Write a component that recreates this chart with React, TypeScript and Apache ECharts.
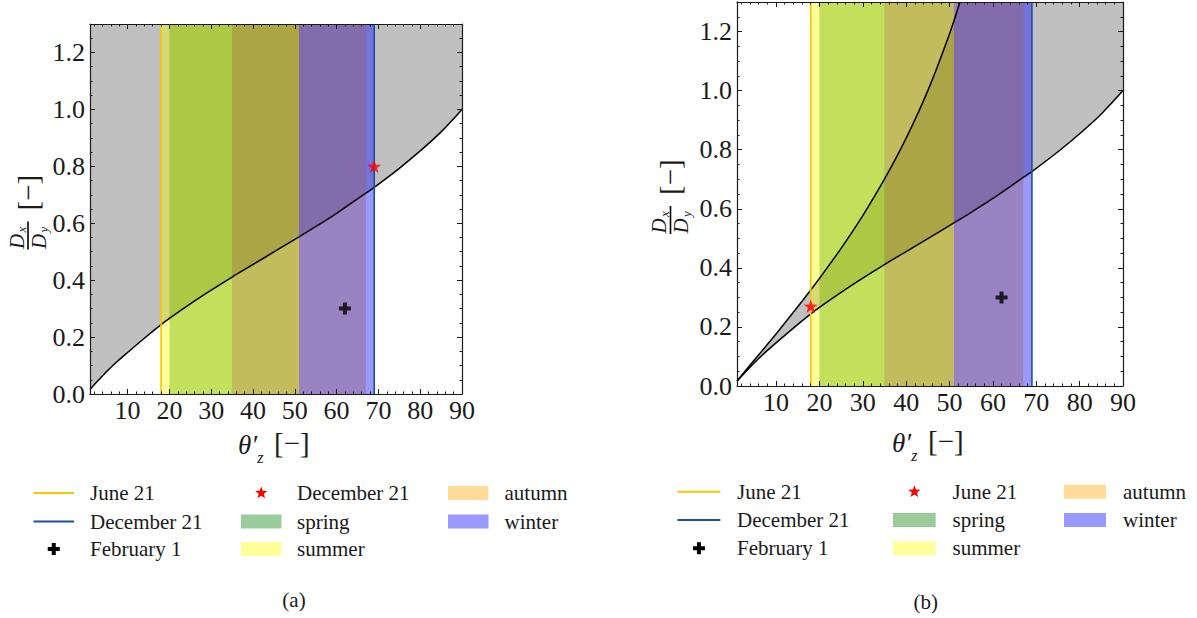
import React, { useEffect, useRef } from "react";
import * as echarts from "echarts";

// ---- data -------------------------------------------------------------
// lower boundary curve D_x/D_y over the projected zenith angle (both panels)
const lowerTheta = [1, 3, 5, 7.5, 10, 14, 18, 20, 25, 30, 35, 40, 45, 51, 55, 60, 67, 69, 75, 80, 85, 90];
const lowerRatio = [0.016, 0.048, 0.079, 0.114, 0.146, 0.196, 0.244, 0.266, 0.317, 0.365, 0.411, 0.455, 0.499, 0.552, 0.588, 0.635, 0.706, 0.726, 0.793, 0.854, 0.921, 1.0];

// upper boundary curve (panel b)
const upperTheta = [1, 5, 10, 15, 18, 20, 25, 30, 35, 40, 45, 50, 52.4];
const upperRatio = [0.017, 0.088, 0.176, 0.268, 0.325, 0.364, 0.466, 0.577, 0.7, 0.839, 1.0, 1.192, 1.3];

// seasonal ranges of the projected zenith angle
const seasonNames = ["spring", "summer", "autumn", "winter"];
const seasonStart = [20, 18, 35, 51];
const seasonEnd = [51, 35, 67, 69];
const seasonFill = ["rgba(0,128,0,0.4)", "rgba(255,255,0,0.4)", "rgba(255,165,0,0.4)", "rgba(0,0,255,0.4)"];
const seasonSwatch = ["#99cc99", "#ffff99", "#ffdb99", "#9999ff"];

// solstice angles and marked days
const juneTheta = 18;
const decemberTheta = 69;
const decemberPointA = [69, 0.8];
const junePointB = [18, 0.27];
const februaryPoint = [62, 0.3];

// axis ranges
const X_MIN = 1;
const X_MAX = 90;
const Y_MIN = 0;
const Y_MAX = 1.3;
const Y_STEP = 0.2;

// ---- style ------------------------------------------------------------
const INK = "#1a1a1a";
const SERIF = '"Liberation Serif", "Times New Roman", serif';
const JUNE_COLOR = "#f7c600";
const DEC_COLOR = "#1d4f9f";
const FILL_GRAY = "#c0c0c0";
const SMOOTH = 0.3;

const STAR_PATH =
  "path://M0,-10 L2.35,-3.24 L9.51,-3.09 L3.8,1.24 L5.88,8.09 L0,4 L-5.88,8.09 L-3.8,1.24 L-9.51,-3.09 L-2.35,-3.24 Z";
const PLUS_PATH =
  "path://M-1,-3 L1,-3 L1,-1 L3,-1 L3,1 L1,1 L1,3 L-1,3 L-1,1 L-3,1 L-3,-1 L-1,-1 Z";

const pairs = (xs: number[], ys: number[]) => xs.map((x, i) => [x, ys[i]]);

function starPoints(cx: number, cy: number, R: number, r: number) {
  const pts: number[][] = [];
  for (let i = 0; i < 10; i++) {
    const a = -Math.PI / 2 + (i * Math.PI) / 5;
    const rad = i % 2 === 0 ? R : r;
    pts.push([cx + rad * Math.cos(a), cy + rad * Math.sin(a)]);
  }
  return pts;
}

function plusPoints(cx: number, cy: number, s: number) {
  const a = s / 6;
  const b = s / 2;
  return [
    [cx - a, cy - b], [cx + a, cy - b], [cx + a, cy - a], [cx + b, cy - a],
    [cx + b, cy + a], [cx + a, cy + a], [cx + a, cy + b], [cx - a, cy + b],
    [cx - a, cy + a], [cx - b, cy + a], [cx - b, cy - a], [cx - a, cy - a],
  ];
}

function xAxisFor(gridIndex: number, position: "bottom" | "top") {
  const bottom = position === "bottom";
  return {
    type: "value",
    gridIndex,
    position,
    min: X_MIN,
    max: X_MAX,
    splitNumber: 9,
    z: 10,
    axisLine: { show: true, onZero: false, lineStyle: { color: INK, width: 1.2 } },
    axisTick: { show: true, inside: true, length: 5, lineStyle: { color: INK, width: 1 } },
    minorTick: { show: true, splitNumber: 5, length: 2.5, lineStyle: { color: INK, width: 1 } },
    splitLine: { show: false },
    minorSplitLine: { show: false },
    axisLabel: bottom
      ? {
          show: true,
          margin: 6,
          fontFamily: SERIF,
          fontSize: 26,
          lineHeight: 20,
          color: INK,
          showMinLabel: false,
          formatter: (v: number) => (v % 10 === 0 ? String(v) : ""),
        }
      : { show: false },
  };
}

function yAxisFor(gridIndex: number, position: "left" | "right") {
  const left = position === "left";
  return {
    type: "value",
    gridIndex,
    position,
    min: Y_MIN,
    max: Y_MAX,
    interval: Y_STEP,
    z: 10,
    axisLine: { show: true, onZero: false, lineStyle: { color: INK, width: 1.2 } },
    axisTick: { show: true, inside: true, length: 5, lineStyle: { color: INK, width: 1 } },
    minorTick: { show: true, splitNumber: 4, length: 2.5, lineStyle: { color: INK, width: 1 } },
    splitLine: { show: false },
    minorSplitLine: { show: false },
    axisLabel: left
      ? {
          show: true,
          margin: 5,
          fontFamily: SERIF,
          fontSize: 26,
          color: INK,
          showMaxLabel: false,
          formatter: (v: number) => (v > 1.25 ? "" : v.toFixed(1)),
        }
      : { show: false },
  };
}

function seasonBands(xAxisIndex: number, yAxisIndex: number) {
  return {
    type: "custom",
    name: "seasons",
    xAxisIndex,
    yAxisIndex,
    z: 3,
    silent: true,
    data: seasonNames.map((_, i) => [seasonStart[i], seasonEnd[i]]),
    encode: { x: [0, 1] },
    renderItem: (params: any, api: any) => {
      const a = api.coord([api.value(0), Y_MAX]);
      const b = api.coord([api.value(1), Y_MIN]);
      return {
        type: "rect",
        shape: { x: a[0], y: a[1], width: b[0] - a[0], height: b[1] - a[1] },
        style: { fill: seasonFill[params.dataIndex] },
      };
    },
  };
}

function verticalLine(theta: number, color: string, xAxisIndex: number, yAxisIndex: number) {
  return {
    type: "line",
    xAxisIndex,
    yAxisIndex,
    z: 5,
    silent: true,
    symbol: "none",
    data: [
      [theta, Y_MIN],
      [theta, Y_MAX],
    ],
    lineStyle: { color, width: 1.6 },
  };
}

function curve(xs: number[], ys: number[], xAxisIndex: number, yAxisIndex: number) {
  return {
    type: "line",
    xAxisIndex,
    yAxisIndex,
    z: 4,
    silent: true,
    symbol: "none",
    smooth: SMOOTH,
    data: pairs(xs, ys),
    lineStyle: { color: "#000", width: 1.5 },
  };
}

function fillAbove(xs: number[], ys: number[], color: string, z: number, xAxisIndex: number, yAxisIndex: number) {
  return {
    type: "line",
    xAxisIndex,
    yAxisIndex,
    z,
    silent: true,
    symbol: "none",
    smooth: SMOOTH,
    data: pairs(xs, ys),
    lineStyle: { width: 0, opacity: 0 },
    areaStyle: { origin: "end", color, opacity: 1 },
  };
}

function marker(point: number[], path: string, size: number, color: string, xAxisIndex: number, yAxisIndex: number) {
  return {
    type: "scatter",
    xAxisIndex,
    yAxisIndex,
    z: 7,
    silent: true,
    symbol: path,
    symbolSize: size,
    symbolKeepAspect: true,
    data: [point],
    itemStyle: { color },
  };
}

// ---- decorations: axis titles, legends, captions ----------------------
function text(x: number, y: number, s: string, font: string, align = "left", vAlign = "middle") {
  return {
    type: "text",
    x,
    y,
    silent: true,
    style: {
      text: s,
      font,
      fill: INK,
      align,
      verticalAlign: vAlign,
      textAlign: align,
      textVerticalAlign: vAlign,
    },
  };
}

function xTitle(cx: number, cy: number) {
  return [
    {
      type: "text",
      x: cx - 38,
      y: cy + 2,
      silent: true,
      style: {
        text: "{t|θ′}{s|z}",
        fill: INK,
        align: "left",
        verticalAlign: "middle",
        textAlign: "left",
        textVerticalAlign: "middle",
        rich: {
          t: { font: `italic 27px ${SERIF}`, fill: INK, lineHeight: 40, verticalAlign: "middle" },
          s: { font: `italic 16px ${SERIF}`, fill: INK, lineHeight: 16, verticalAlign: "bottom" },
        },
      },
    },
    text(cx - 2, cy, "[−]", `29px ${SERIF}`),
  ];
}

function yTitle(cx: number, cy: number) {
  return {
    type: "group",
    x: cx,
    y: cy,
    rotation: Math.PI / 2,
    silent: true,
    children: [
      text(-31, -11, "D", `italic 21px ${SERIF}`, "center"),
      text(-19, -6, "x", `italic 13px ${SERIF}`, "center"),
      {
        type: "line",
        shape: { x1: -39, y1: 0.5, x2: -11, y2: 0.5 },
        style: { stroke: "#000", lineWidth: 1.6 },
      },
      text(-31, 11, "D", `italic 21px ${SERIF}`, "center"),
      text(-19, 16, "y", `italic 13px ${SERIF}`, "center"),
      text(0, 0, "[−]", `29px ${SERIF}`),
    ],
  };
}

type LegendCols = {
  rows: number[];
  lineX: [number, number];
  col1Text: number;
  col2Handle: [number, number];
  col2Text: number;
  col3Handle: [number, number];
  col3Text: number;
  starLabel: string;
};

function legend(l: LegendCols) {
  const font = `21px ${SERIF}`;
  const [r1, r2, r3] = l.rows;
  const els: any[] = [];
  const hLine = (y: number, color: string) => ({
    type: "line",
    silent: true,
    shape: { x1: l.lineX[0], y1: y, x2: l.lineX[1], y2: y },
    style: { stroke: color, lineWidth: 2 },
  });
  const patch = (x: [number, number], y: number, color: string) => ({
    type: "rect",
    silent: true,
    shape: { x: x[0], y: y - 7, width: x[1] - x[0], height: 14 },
    style: { fill: color },
  });
  const midLine = (l.lineX[0] + l.lineX[1]) / 2;
  const midCol2 = (l.col2Handle[0] + l.col2Handle[1]) / 2;
  els.push(hLine(r1, JUNE_COLOR), text(l.col1Text, r1, "June 21", font));
  els.push(hLine(r2, DEC_COLOR), text(l.col1Text, r2, "December 21", font));
  els.push(
    { type: "polygon", silent: true, shape: { points: plusPoints(midLine, r3, 12) }, style: { fill: "#000" } },
    text(l.col1Text, r3, "February 1", font)
  );
  els.push(
    { type: "polygon", silent: true, shape: { points: starPoints(midCol2, r1, 6.5, 2.7) }, style: { fill: "#ff0000" } },
    text(l.col2Text, r1, l.starLabel, font)
  );
  els.push(patch(l.col2Handle, r2, seasonSwatch[0]), text(l.col2Text, r2, seasonNames[0], font));
  els.push(patch(l.col2Handle, r3, seasonSwatch[1]), text(l.col2Text, r3, seasonNames[1], font));
  els.push(patch(l.col3Handle, r1, seasonSwatch[2]), text(l.col3Text, r1, seasonNames[2], font));
  els.push(patch(l.col3Handle, r2, seasonSwatch[3]), text(l.col3Text, r2, seasonNames[3], font));
  return els;
}

export default function App() {
  const ref = useRef<HTMLDivElement>(null);

  useEffect(() => {
    if (!ref.current) return;
    const chart = echarts.init(ref.current, undefined, { renderer: "svg" });

    const option: any = {
      animation: false,
      backgroundColor: "#ffffff",
      grid: [
        { left: 90, top: 24, width: 372, height: 370, outerBoundsMode: "none", containLabel: false },
        { left: 737, top: 2, width: 386, height: 384, outerBoundsMode: "none", containLabel: false },
      ],
      xAxis: [xAxisFor(0, "bottom"), xAxisFor(0, "top"), xAxisFor(1, "bottom"), xAxisFor(1, "top")],
      yAxis: [yAxisFor(0, "left"), yAxisFor(0, "right"), yAxisFor(1, "left"), yAxisFor(1, "right")],
      series: [
        // panel (a)
        fillAbove(lowerTheta, lowerRatio, FILL_GRAY, 1, 0, 0),
        seasonBands(0, 0),
        curve(lowerTheta, lowerRatio, 0, 0),
        verticalLine(juneTheta, JUNE_COLOR, 0, 0),
        verticalLine(decemberTheta, DEC_COLOR, 0, 0),
        marker(decemberPointA, STAR_PATH, 14, "#ff0000", 0, 0),
        marker(februaryPoint, PLUS_PATH, 12, "#000000", 0, 0),
        // panel (b)
        fillAbove(lowerTheta, lowerRatio, FILL_GRAY, 1, 2, 2),
        fillAbove(upperTheta, upperRatio, "#ffffff", 2, 2, 2),
        seasonBands(2, 2),
        curve(lowerTheta, lowerRatio, 2, 2),
        curve(upperTheta, upperRatio, 2, 2),
        verticalLine(juneTheta, JUNE_COLOR, 2, 2),
        verticalLine(decemberTheta, DEC_COLOR, 2, 2),
        marker(junePointB, STAR_PATH, 14, "#ff0000", 2, 2),
        marker(februaryPoint, PLUS_PATH, 12, "#000000", 2, 2),
      ],
      graphic: [
        ...xTitle(276, 443),
        ...xTitle(930, 441),
        yTitle(27.5, 210.5),
        yTitle(670, 195),
        ...legend({
          rows: [493, 521.5, 549],
          lineX: [33.5, 74],
          col1Text: 90,
          col2Handle: [241, 281.5],
          col2Text: 297,
          col3Handle: [448, 488.5],
          col3Text: 504.5,
          starLabel: "December 21",
        }),
        ...legend({
          rows: [491.7, 520, 548.3],
          lineX: [677.5, 720.4],
          col1Text: 737,
          col2Handle: [893, 935.7],
          col2Text: 952.5,
          col3Handle: [1064, 1106],
          col3Text: 1123,
          starLabel: "June 21",
        }),
        text(294, 600, "(a)", `21px ${SERIF}`, "center"),
        text(925.7, 602, "(b)", `21px ${SERIF}`, "center"),
      ],
    };

    chart.setOption(option);
    return () => chart.dispose();
  }, []);

  return (
    <div
      ref={ref}
      style={{ position: "fixed", left: 0, top: 0, width: 1197, height: 618, background: "#ffffff" }}
    />
  );
}
